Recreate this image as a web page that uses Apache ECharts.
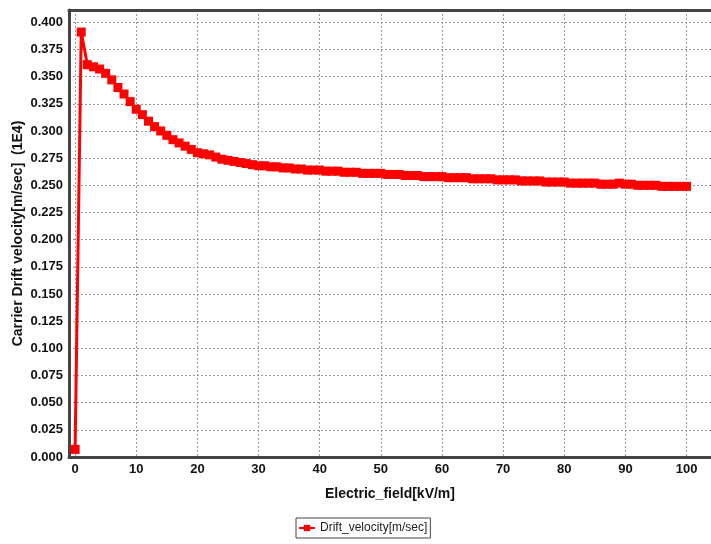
<!DOCTYPE html>
<html>
<head>
<meta charset="utf-8">
<script src="https://cdn.jsdelivr.net/npm/echarts@6/dist/echarts.min.js"></script>
<style>
  html,body{margin:0;padding:0;background:#fff;}
  #container{width:711px;height:544px;}
</style>
</head>
<body>
<div id="container"></div>
<script>
	var seriesName = 'Drift_velocity[m/sec]';
	// Electric field, kV/m
	var fieldData = [];
	for(var i = 0; i <= 100; i++){
		fieldData.push(i);
	}
	// drift velocity (1E4 m/sec)
	var velocityData = [
		0.007, 0.391, 0.361, 0.359, 0.357, 0.353, 0.347, 0.340, 0.334, 0.327,
		0.320, 0.315, 0.309, 0.304, 0.300, 0.296, 0.292, 0.289, 0.286, 0.283,
		0.280, 0.279, 0.278, 0.276, 0.274, 0.273, 0.272, 0.271, 0.270, 0.269,
		0.268, 0.268, 0.267, 0.267, 0.266, 0.266, 0.265, 0.265, 0.264, 0.264,
		0.264, 0.263, 0.263, 0.263, 0.262, 0.262, 0.262, 0.261, 0.261, 0.261,
		0.261, 0.260, 0.260, 0.260, 0.259, 0.259, 0.259, 0.258, 0.258, 0.258,
		0.258, 0.257, 0.257, 0.257, 0.257, 0.256, 0.256, 0.256, 0.256, 0.255,
		0.255, 0.255, 0.255, 0.254, 0.254, 0.254, 0.254, 0.253, 0.253, 0.253,
		0.253, 0.252, 0.252, 0.252, 0.252, 0.252, 0.251, 0.251, 0.251, 0.252,
		0.251, 0.251, 0.250, 0.250, 0.250, 0.250, 0.249, 0.249, 0.249, 0.249,
		0.249
	];

	var points = [];
	for(var i in fieldData){
		points.push([fieldData[i], velocityData[i]]);
	}

	var font = '"Liberation Sans", Arial, sans-serif';
	var gridDash = {color:'#9a9a9a', width:1, type:[2,2]};
	var xMin = -1, xMax = 104;

	var chart = echarts.init(document.getElementById('container'));
	var option = {
		animation: false,
		textStyle: {fontFamily: font},
		grid: {
			left: 69,
			right: 0,
			top: 10,
			bottom: 87,
			outerBoundsMode: 'none',
			containLabel: false
		},
		legend: {
			left: 296,
			top: 518,
			data: [seriesName],
			borderColor: '#444',
			borderWidth: 1,
			padding: [4, 3, 4, 2],
			itemWidth: 16,
			itemHeight: 8,
			itemGap: 2,
			textStyle: {fontFamily: font, fontSize: 12, color: '#222'}
		},
		xAxis: [{
			type: 'value',
			min: xMin,
			max: xMax,
			splitNumber: 10,
			name: 'Electric_field[kV/m]',
			nameLocation: 'middle',
			nameGap: 30,
			nameMoveOverlap: false,
			nameTextStyle: {fontFamily: font, fontSize: 14, fontWeight: 'bold', color: '#111'},
			axisLine: {show: true, onZero: false, lineStyle: {color: '#444', width: 3}},
			axisTick: {show: false},
			splitLine: {show: true, lineStyle: gridDash},
			axisLabel: {
				fontFamily: font, fontSize: 13, fontWeight: 'bold', color: '#111', margin: 6,
				formatter: function(v){
					if(v < 0 || v > 100 || Math.abs(v % 10) > 0.001) return '';
					return String(v);
				}
			}
		}, {
			// top frame line only
			type: 'value',
			position: 'top',
			min: xMin,
			max: xMax,
			axisLine: {show: true, onZero: false, lineStyle: {color: '#444', width: 3}},
			axisTick: {show: false},
			axisLabel: {show: false},
			splitLine: {show: false}
		}],
		yAxis: {
			type: 'value',
			min: 0,
			max: 0.4113,
			interval: 0.025,
			name: 'Carrier Drift velocity[m/sec]  (1E4)',
			nameLocation: 'middle',
			nameGap: 44,
			nameMoveOverlap: false,
			nameTextStyle: {fontFamily: font, fontSize: 14, fontWeight: 'bold', color: '#111'},
			axisLine: {show: true, onZero: false, lineStyle: {color: '#444', width: 3}},
			axisTick: {show: false},
			splitLine: {show: true, lineStyle: gridDash},
			axisLabel: {
				fontFamily: font, fontSize: 13, fontWeight: 'bold', color: '#111', margin: 6,
				formatter: function(v){
					if(v > 0.4001) return '';
					return v.toFixed(3);
				}
			}
		},
		series: [{
			name: seriesName,
			type: 'line',
			xAxisIndex: 0,
			data: points,
			symbol: 'rect',
			symbolSize: 9,
			color: '#ff0000',
			lineStyle: {color: '#ff0000', width: 3},
			itemStyle: {color: '#ff0000'}
		}]
	};
	chart.setOption(option);
</script>
</body>
</html>
